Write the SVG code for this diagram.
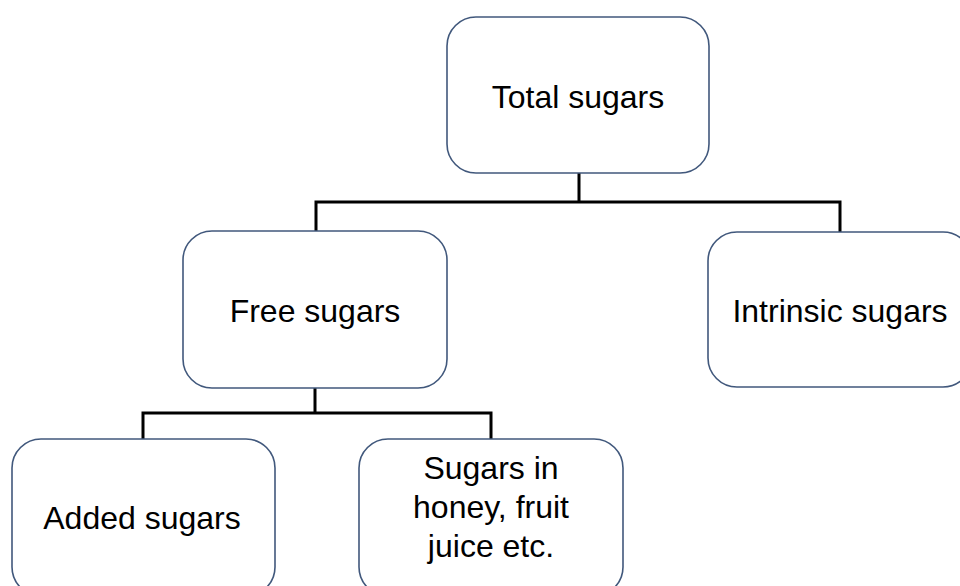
<svg xmlns="http://www.w3.org/2000/svg" width="960" height="586" viewBox="0 0 960 586">
<style>
.box{fill:#ffffff;stroke:#41587c;stroke-width:1.6}
.lbl{font-family:"Liberation Sans",Arial,sans-serif;font-size:32px;fill:#000000;text-anchor:middle}
.conn{fill:none;stroke:#000000;stroke-width:3;stroke-linecap:square;stroke-linejoin:miter}
</style>
<rect width="960" height="586" fill="#ffffff"/>
<g id="connectors">
<path class="conn" d="M579,173 V202 M316,202 H840 M316,202 V231 M840,202 V232"/>
<path class="conn" d="M315,388 V413 M143,413 H491 M143,413 V439 M491,413 V439"/>
</g>
<g id="total">
<rect class="box" x="447" y="17" width="262" height="156" rx="29" ry="29"/>
<text class="lbl" x="578" y="108">Total sugars</text>
</g>
<g id="free">
<rect class="box" x="183" y="231" width="264" height="157" rx="29" ry="29"/>
<text class="lbl" x="315" y="322">Free sugars</text>
</g>
<g id="intrinsic">
<rect class="box" x="708" y="232" width="264" height="155" rx="29" ry="29"/>
<text class="lbl" x="840" y="322">Intrinsic sugars</text>
</g>
<g id="added">
<rect class="box" x="12" y="439" width="263" height="157" rx="29" ry="29"/>
<text class="lbl" x="142" y="529">Added sugars</text>
</g>
<g id="honey">
<rect class="box" x="359" y="439" width="264" height="157" rx="29" ry="29"/>
<text class="lbl" x="491" y="479">Sugars in</text>
<text class="lbl" x="491" y="518">honey, fruit</text>
<text class="lbl" x="491" y="557">juice etc.</text>
</g>
</svg>
